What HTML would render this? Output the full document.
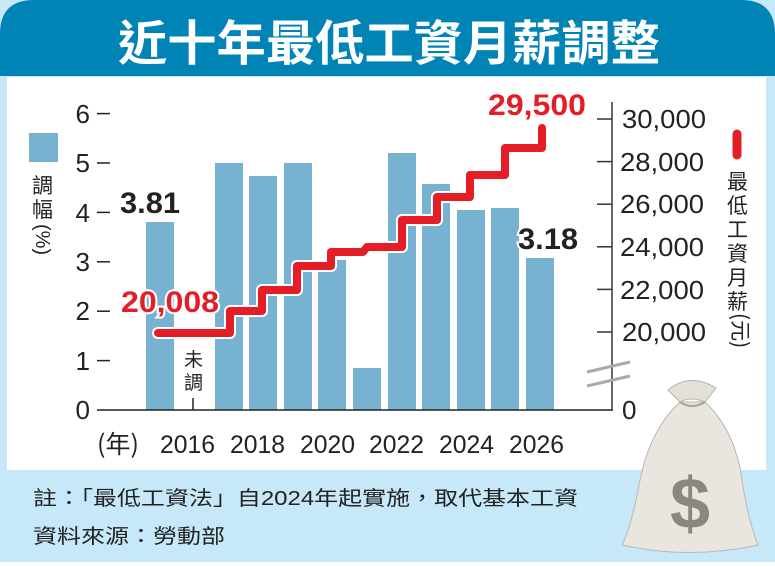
<!DOCTYPE html>
<html><head><meta charset="utf-8"><style>
body{margin:0;width:775px;height:562px;overflow:hidden;background:#fff;font-family:"Liberation Sans","Noto Sans CJK TC",sans-serif}
</style></head><body>
<svg width="775" height="562" viewBox="0 0 775 562" xmlns="http://www.w3.org/2000/svg" font-family="Liberation Sans, Noto Sans CJK TC, sans-serif">
<rect x="0" y="0" width="775" height="562" fill="#c6e8f8"/>
<path d="M0 76 V34 Q0 0 34 0 H741 Q775 0 775 34 V76 Z" fill="#0083b5"/>
<rect x="7" y="77" width="759" height="393" fill="#fff"/>
<text x="118" y="60" textLength="542" lengthAdjust="spacingAndGlyphs" font-size="48" font-weight="bold" fill="#fff" font-family="Noto Sans CJK TC, sans-serif">近十年最低工資月薪調整</text>
<!-- legend left -->
<rect x="29" y="133" width="29" height="29" fill="#77b3d0"/>
<text font-size="21" fill="#222" font-family="Noto Sans CJK TC, sans-serif"><tspan x="32" y="193">調</tspan><tspan x="32" y="217">幅</tspan></text>
<text x="36" y="224" font-size="20" fill="#222" transform="rotate(90 36 224)">(%)</text>
<!-- left ticks -->
<g stroke="#222" stroke-width="1.5">
<line x1="97" y1="113.6" x2="110" y2="113.6"/><line x1="97" y1="163" x2="110" y2="163"/><line x1="97" y1="212.4" x2="110" y2="212.4"/><line x1="97" y1="261.8" x2="110" y2="261.8"/><line x1="97" y1="311.2" x2="110" y2="311.2"/><line x1="97" y1="360.6" x2="110" y2="360.6"/>
</g>
<g font-size="26" fill="#222" text-anchor="end">
<text x="90" y="123">6</text><text x="90" y="172">5</text><text x="90" y="222">4</text><text x="90" y="271">3</text><text x="90" y="320">2</text><text x="90" y="370">1</text><text x="90" y="419">0</text>
</g>
<!-- bars -->
<g fill="#77b3d0">
<rect x="146" y="222" width="28" height="188"/>
<rect x="215" y="163" width="28" height="247"/>
<rect x="249" y="176" width="28" height="234"/>
<rect x="284" y="163" width="28" height="247"/>
<rect x="318" y="260" width="28" height="150"/>
<rect x="353" y="368" width="28" height="42"/>
<rect x="388" y="153" width="28" height="257"/>
<rect x="422" y="184" width="28" height="226"/>
<rect x="457" y="210" width="28" height="200"/>
<rect x="491" y="208" width="28" height="202"/>
<rect x="526" y="258" width="28" height="152"/>
</g>
<line x1="97" y1="410" x2="613" y2="410" stroke="#222" stroke-width="1.5"/>
<line x1="193" y1="398" x2="193" y2="410" stroke="#222" stroke-width="1.5"/>
<text font-size="19" fill="#222" font-family="Noto Sans CJK TC, sans-serif"><tspan x="184" y="366">未</tspan><tspan x="184" y="389">調</tspan></text>
<!-- right axis -->
<line x1="612" y1="102" x2="612" y2="410" stroke="#333" stroke-width="1.5"/>
<g stroke="#333" stroke-width="1.5">
<line x1="597" y1="119" x2="612" y2="119"/><line x1="597" y1="161.6" x2="612" y2="161.6"/><line x1="597" y1="204.2" x2="612" y2="204.2"/><line x1="597" y1="246.8" x2="612" y2="246.8"/><line x1="597" y1="289.4" x2="612" y2="289.4"/><line x1="597" y1="332" x2="612" y2="332"/>
</g>
<g stroke="#aaa" stroke-width="3"><line x1="587" y1="372" x2="630" y2="362"/><line x1="587" y1="386" x2="630" y2="376"/></g>
<g font-size="26" fill="#222">
<text x="622" y="128" textLength="84" lengthAdjust="spacingAndGlyphs">30,000</text><text x="620" y="171" textLength="84" lengthAdjust="spacingAndGlyphs">28,000</text><text x="620" y="213" textLength="84" lengthAdjust="spacingAndGlyphs">26,000</text><text x="620" y="256" textLength="84" lengthAdjust="spacingAndGlyphs">24,000</text><text x="620" y="299" textLength="84" lengthAdjust="spacingAndGlyphs">22,000</text><text x="622" y="341" textLength="84" lengthAdjust="spacingAndGlyphs">20,000</text><text x="622" y="419">0</text>
</g>
<line x1="737" y1="134" x2="737" y2="155" stroke="#e41e26" stroke-width="9" stroke-linecap="round"/>
<text font-size="21" fill="#222" font-family="Noto Sans CJK TC, sans-serif"><tspan x="727" y="189">最</tspan><tspan x="727" y="213">低</tspan><tspan x="727" y="237">工</tspan><tspan x="727" y="261">資</tspan><tspan x="727" y="285">月</tspan><tspan x="727" y="309">薪</tspan></text>
<text x="733" y="313" font-size="21" fill="#222" font-family="Noto Sans CJK TC, sans-serif" transform="rotate(90 733 313)">(元)</text>
<!-- red line -->
<polyline fill="none" stroke="#fff" stroke-width="12" stroke-linejoin="round" stroke-linecap="round" points="158,333 230,333 230,311 262,311 262,290 297,290 297,266 331,266 331,252 363,252 367,247 402,247 402,220 437,220 437,197 470,197 470,175 505,175 505,148 542,148 542,128"/>
<polyline fill="none" stroke="#e41e26" stroke-width="8" stroke-linejoin="round" stroke-linecap="round" points="158,333 230,333 230,311 262,311 262,290 297,290 297,266 331,266 331,252 363,252 367,247 402,247 402,220 437,220 437,197 470,197 470,175 505,175 505,148 542,148 542,128"/>
<g font-weight="bold" font-size="30" stroke="#fff" stroke-width="4" paint-order="stroke">
<text x="120" y="213" fill="#222" textLength="60" lengthAdjust="spacingAndGlyphs">3.81</text>
<text x="518" y="249" fill="#222" textLength="60" lengthAdjust="spacingAndGlyphs">3.18</text>
<text x="121" y="312" fill="#e41e26" textLength="98" lengthAdjust="spacingAndGlyphs">20,008</text>
<text x="488" y="115" fill="#e41e26" textLength="98" lengthAdjust="spacingAndGlyphs">29,500</text>
</g>
<!-- x labels -->
<g font-size="25" fill="#222">
<text x="97" y="453" font-family="Noto Sans CJK TC, sans-serif">(年)</text>
<text x="160" y="453" textLength="55" lengthAdjust="spacingAndGlyphs">2016</text><text x="230" y="453" textLength="55" lengthAdjust="spacingAndGlyphs">2018</text><text x="300" y="453" textLength="55" lengthAdjust="spacingAndGlyphs">2020</text><text x="369" y="453" textLength="55" lengthAdjust="spacingAndGlyphs">2022</text><text x="439" y="453" textLength="55" lengthAdjust="spacingAndGlyphs">2024</text><text x="509" y="453" textLength="55" lengthAdjust="spacingAndGlyphs">2026</text>
</g>
<!-- notes -->
<g font-size="20" fill="#222" font-family="Liberation Sans, Noto Sans CJK TC, sans-serif">
<text x="33" y="505" textLength="545" lengthAdjust="spacingAndGlyphs">註：「最低工資法」自2024年起實施，取代基本工資</text>
<text x="33" y="543" textLength="192" lengthAdjust="spacingAndGlyphs">資料來源：勞動部</text>
</g>
<!-- money bag -->
<g>
<path d="M668 390 Q690 372 716 388 L705 402 Q690 396 680 402 Z" fill="#e3e0da" stroke="#b8b3aa"/>
<path d="M680 402 Q650 430 640 480 Q632 525 622 545 Q690 560 758 545 Q748 520 742 480 Q735 430 705 402 Z" fill="#e9e6e0" stroke="#bdb8ae"/>
<path d="M680 402 Q692 410 705 402" fill="none" stroke="#a8a298" stroke-width="2"/>
<text x="690" y="528" text-anchor="middle" font-size="72" font-weight="bold" fill="#8c877c">$</text>
</g>
</svg>
</body></html>
